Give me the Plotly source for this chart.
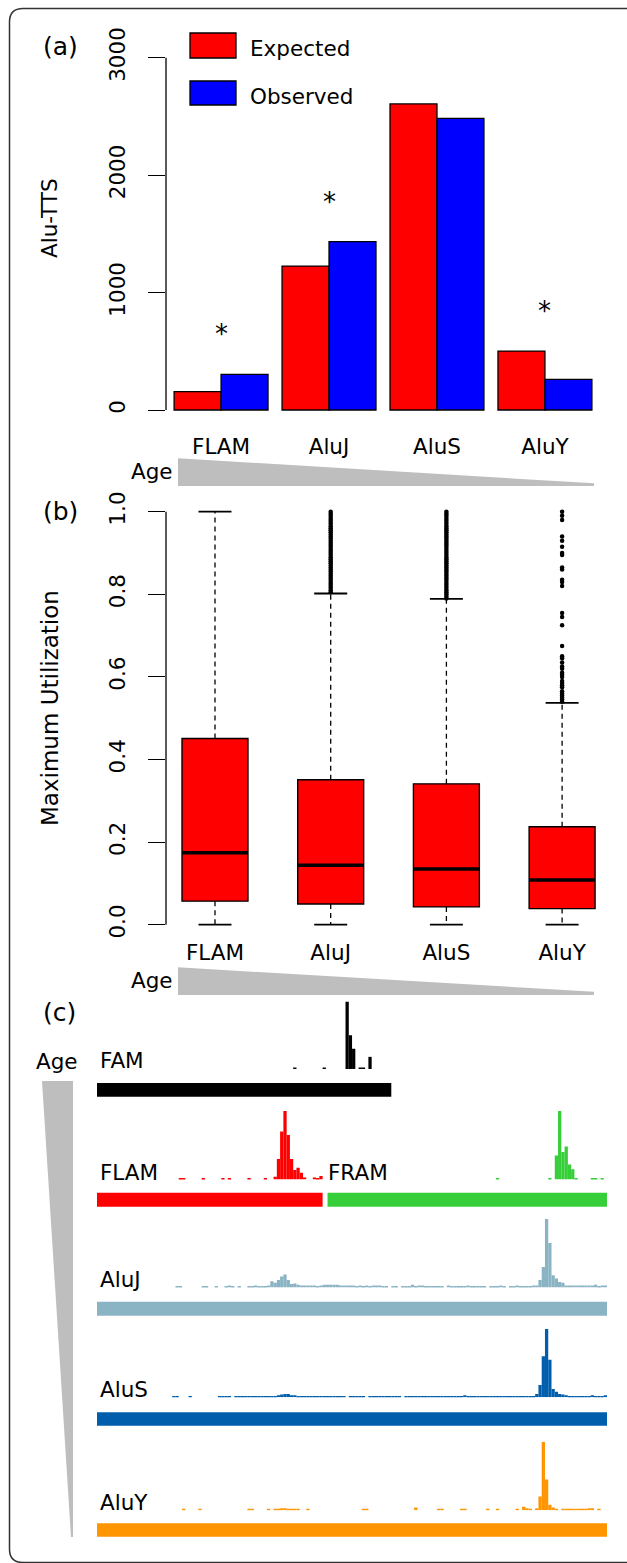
import plotly.graph_objects as go

W, H = 627, 1563
FONT = "DejaVu Sans"
FS = 21.5

# ---------------- panel (a) data ----------------
families = ["FLAM", "AluJ", "AluS", "AluY"]
expected = [156, 1226, 2606, 502]
observed = [304, 1434, 2484, 261]
significant = [True, True, False, True]
a_ytick_vals = [0, 1000, 2000, 3000]
a_ytick_text = ["0", "1000", "2000", "3000"]

# ---------------- panel (b) data ----------------
b_lower = [0.0, 0.0, 0.0, 0.0]
b_q1 = [0.057, 0.050, 0.043, 0.039]
b_median = [0.174, 0.144, 0.135, 0.108]
b_q3 = [0.451, 0.351, 0.341, 0.237]
b_upper = [1.0, 0.802, 0.789, 0.537]
out_flam = []
out_aluj = [0.805, 0.81, 0.815, 0.82, 0.825, 0.83, 0.835, 0.84, 0.845, 0.85,
            0.855, 0.86, 0.865, 0.87, 0.875, 0.88, 0.885, 0.89, 0.895, 0.90,
            0.905, 0.91, 0.915, 0.92, 0.925, 0.93, 0.935, 0.94, 0.945, 0.95,
            0.955, 0.96, 0.965, 0.97, 0.975, 0.98, 0.985, 0.99, 0.995, 1.0]
out_alus = [0.79, 0.795, 0.80, 0.805, 0.81, 0.815, 0.82, 0.825, 0.83, 0.835,
            0.84, 0.845, 0.85, 0.855, 0.86, 0.865, 0.87, 0.875, 0.88, 0.885,
            0.89, 0.895, 0.90, 0.905, 0.91, 0.915, 0.92, 0.925, 0.93, 0.935,
            0.94, 0.945, 0.95, 0.955, 0.96, 0.965, 0.97, 0.975, 0.98, 0.985,
            0.99, 0.995, 1.0]
out_aluy = [1.0, 0.99, 0.98, 0.94, 0.93, 0.915, 0.90, 0.895, 0.865, 0.86, 0.835,
            0.83, 0.82, 0.755, 0.745, 0.725, 0.675, 0.65, 0.645, 0.635, 0.625,
            0.62, 0.61, 0.605, 0.60, 0.59, 0.585, 0.58, 0.575, 0.565, 0.56,
            0.555, 0.55, 0.545, 0.54]
b_outliers = [out_flam, out_aluj, out_alus, out_aluy]
b_ytick_vals = [0, 0.2, 0.4, 0.6, 0.8, 1.0]
b_ytick_text = ["0.0", "0.2", "0.4", "0.6", "0.8", "1.0"]

# ---------------- panel (c) data ----------------
BIN_BP = 2          # histogram bin width (bp)
ALU_LEN = 312       # consensus length (bp)
track_names = ["FAM", "FLAM", "FRAM", "AluJ", "AluS", "AluY"]
track_colors = ["#000000", "#ff0000", "#36cf3a", "#8ab4c4", "#005eac", "#ff9500"]
element_start = [0, 0, 141, 0, 0, 0]
element_end = [180, 138, 312, 312, 312, 312]

fam_first_bin = 60
fam_signal = [2, 0, 0, 0, 0, 0, 0, 0, 0, 2,
              0, 0, 0, 0, 0, 0, 100, 50, 30, 0,
              2, 2, 0, 18]
flam_first_bin = 25
flam_signal = [2, 2, 0, 0, 0, 0, 0, 2, 0, 0,
               0, 0, 0, 2, 0, 2, 0, 0, 0, 0,
               0, 2, 0, 0, 0, 0, 2, 0, 0, 4,
               30, 70, 100, 65, 30, 14, 17, 10, 3, 0,
               0, 3, 2, 5]
fram_first_bin = 122
fram_signal = [2, 0, 0, 0, 0, 0, 0, 0, 0, 0,
               0, 0, 0, 0, 0, 0, 2, 0, 35, 100,
               40, 48, 22, 15, 2, 0, 0, 0, 0, 2,
               2, 0, 2]
aluj_first_bin = 24
aluj_signal = [1.5, 1.5, 0, 0, 0, 0, 0, 0, 1.5, 1.5,
               0, 0, 1.5, 0, 0, 2, 3, 2, 0, 1.5,
               0, 0, 1.5, 2, 3, 2, 1.5, 1.5, 3, 9,
               7, 11, 16, 19, 11, 5, 6, 4, 3, 3,
               3, 3, 3, 2, 3, 4, 4, 4, 4, 4,
               3, 3, 3, 3, 3, 2, 3, 2, 3, 2,
               3, 3, 3, 2, 2, 0, 1.5, 1.5, 0, 1.5,
               1.5, 2, 4, 2, 3, 3, 1.5, 1.5, 1.5, 1.5,
               1.5, 1.5, 0, 3, 1.5, 1.5, 1.5, 1.5, 1.5, 3,
               1.5, 1.5, 1.5, 1.5, 1.5, 0, 1.5, 1.5, 1.5, 3,
               2, 0, 1.5, 1.5, 3, 2, 2, 1.5, 2, 3,
               3, 11, 30, 100, 65, 18, 13, 8, 7, 3,
               3, 3, 3, 3, 3, 3, 3, 3, 4, 2,
               3, 3]
alus_first_bin = 23
alus_signal = [1.5, 1.5, 0, 0, 0, 1.5, 0, 0, 0, 0,
               0, 0, 0, 0, 1.5, 1.5, 1.5, 1.5, 0, 1.5,
               2, 2, 1.5, 2, 2, 1.5, 2, 2, 2, 2,
               2, 2, 3, 4, 5, 5, 3, 3, 2, 2,
               2, 2, 2, 1.5, 2, 2, 2, 1.5, 2, 2,
               2, 2, 2, 0, 2, 2, 2, 2, 2, 0,
               2, 2, 2, 2, 2, 2, 2, 2, 2, 2,
               0, 2, 2, 2, 2, 2, 2, 2, 2, 2,
               2, 2, 2, 2, 2, 2, 2, 2, 2, 3,
               2, 2, 2, 2, 2, 2, 2, 2, 2, 2,
               2, 2, 2, 2, 2, 2, 2, 2, 2, 2,
               2, 5, 18, 60, 100, 55, 12, 8, 5, 4,
               3, 2, 2, 2, 2, 2, 2, 2, 3, 2,
               2, 2, 3]
aluy_first_bin = 26
aluy_signal = [1.5, 0, 0, 0, 0, 1.5, 0, 0, 0, 0,
               0, 0, 0, 0, 0, 0, 0, 0, 0, 0,
               1.5, 1.5, 0, 0, 0, 0, 1.5, 0, 1.5, 1.5,
               3, 3, 1.5, 1.5, 1.5, 1.5, 0, 0, 1.5, 0,
               0, 0, 0, 0, 0, 0, 0, 0, 0, 0,
               0, 0, 0, 0, 0, 1.5, 1.5, 0, 0, 0,
               0, 0, 0, 0, 0, 0, 0, 0, 0, 0,
               0, 4, 0, 0, 0, 0, 0, 0, 1.5, 1.5,
               0, 0, 0, 0, 0, 1.5, 1.5, 0, 0, 0,
               0, 0, 0, 1.5, 0, 0, 1.5, 0, 0, 0,
               0, 0, 1.5, 0, 5, 3, 1.5, 0, 3, 20,
               100, 45, 8, 4, 1.5, 0, 1.5, 1.5, 1.5, 1.5,
               1.5, 1.5, 1.5, 1.5, 3, 3, 0, 1.5]
track_first_bin = [fam_first_bin, flam_first_bin, fram_first_bin,
                   aluj_first_bin, alus_first_bin, aluy_first_bin]
track_signal = [fam_signal, flam_signal, fram_signal,
                aluj_signal, alus_signal, aluy_signal]

# ---------------- layout geometry (pixels) ----------------
def px_x(p):
    return p / W


def px_y(p):
    return 1 - p / H


A_X0, A_X1 = 166, 600
A_YDOM = (424.1, 43.6)          # pixel bottom/top of panel (a) plot area
B_YDOM = (941.2, 495.2)
C_X0, C_X1 = 97, 607.1
track_base = [1069, 1179.5, 1179.5, 1287.5, 1397.3, 1510.2]
track_top = [1001.5, 1111, 1111, 1219, 1329, 1441.7]
element_y = [(1083, 1096.7), (1192.7, 1206.7), (1192.7, 1206.7),
             (1301.7, 1315.7), (1412.3, 1425.7), (1523.3, 1536.7)]
label_pos = [(98, 1060.5), (98, 1172.5), (326, 1172.5),
             (98, 1279.5), (98, 1389.5), (98, 1502.5)]

cat_idx = list(range(len(families)))
BAR_W = 0.435
BOX_W = 0.57

fig = go.Figure()

# ---------------- panel (a) ----------------
fig.add_trace(go.Bar(x=cat_idx, y=expected, name="Expected", width=BAR_W, offset=-BAR_W,
                     marker=dict(color="#ff0000", line=dict(color="black", width=1.3)),
                     xaxis="x", yaxis="y", showlegend=False))
fig.add_trace(go.Bar(x=cat_idx, y=observed, name="Observed", width=BAR_W, offset=0,
                     marker=dict(color="#0000ff", line=dict(color="black", width=1.3)),
                     xaxis="x", yaxis="y", showlegend=False))

# ---------------- panel (b) ----------------
fig.add_trace(go.Box(x=cat_idx, q1=b_q1, median=b_median, q3=b_q3,
                     lowerfence=b_q1, upperfence=b_q3, width=BOX_W, whiskerwidth=0,
                     fillcolor="#ff0000", line=dict(color="black", width=1.4),
                     boxpoints=False, xaxis="x2", yaxis="y2", showlegend=False,
                     hoverinfo="skip"))
wx, wy, cx, cy, mx, my = [], [], [], [], [], []
cap = BOX_W / 4
for i in cat_idx:
    wx += [i, i, None, i, i, None]
    wy += [b_q3[i], b_upper[i], None, b_q1[i], b_lower[i], None]
    cx += [i - cap, i + cap, None, i - cap, i + cap, None]
    cy += [b_upper[i], b_upper[i], None, b_lower[i], b_lower[i], None]
    mx += [i - BOX_W / 2, i + BOX_W / 2, None]
    my += [b_median[i], b_median[i], None]
fig.add_trace(go.Scatter(x=wx, y=wy, mode="lines", line=dict(color="black", width=1.3, dash="5px,4px"),
                         xaxis="x2", yaxis="y2", showlegend=False, cliponaxis=False))
fig.add_trace(go.Scatter(x=cx, y=cy, mode="lines", line=dict(color="black", width=1.8),
                         xaxis="x2", yaxis="y2", showlegend=False, cliponaxis=False))
fig.add_trace(go.Scatter(x=mx, y=my, mode="lines", line=dict(color="black", width=3.5),
                         xaxis="x2", yaxis="y2", showlegend=False, cliponaxis=False))
ox, oy = [], []
for i, vals in enumerate(b_outliers):
    ox += [i] * len(vals)
    oy += vals
fig.add_trace(go.Scatter(x=ox, y=oy, mode="markers", marker=dict(color="black", size=4.5),
                         xaxis="x2", yaxis="y2", showlegend=False, cliponaxis=False))

# ---------------- panel (c) ----------------
for k, name in enumerate(track_names):
    first = track_first_bin[k]
    vals = track_signal[k]
    xs = [(first + i) * BIN_BP + BIN_BP / 2 for i in range(len(vals))]
    fig.add_trace(go.Bar(x=xs, y=vals, width=BIN_BP, name=name,
                         marker=dict(color=track_colors[k], line=dict(width=0)),
                         xaxis="x3", yaxis="y%d" % (k + 3), showlegend=False))

# ---------------- axes ----------------
tickfont = dict(family=FONT, size=FS, color="black")
layout = dict(
    template="none",
    width=W, height=H, margin=dict(l=0, r=0, t=0, b=0, pad=0, autoexpand=False),
    paper_bgcolor="white", plot_bgcolor="rgba(0,0,0,0)",
    barmode="overlay", font=dict(family=FONT, size=FS, color="black"),
    xaxis=dict(domain=[px_x(A_X0), px_x(A_X1)], range=[-0.51, 3.51], anchor="y",
               tickvals=cat_idx, ticktext=families, ticks="", showgrid=False,
               zeroline=False, showline=False, tickfont=tickfont, ticklabelstandoff=7,
               automargin=False, fixedrange=True),
    yaxis=dict(domain=[px_y(A_YDOM[0]), px_y(A_YDOM[1])], range=[-120, 3120], anchor="x",
               tickvals=a_ytick_vals, ticktext=a_ytick_text, ticks="outside", ticklen=17,
               tickwidth=1.3, tickcolor="black", tickangle=-90, showgrid=False,
               zeroline=False, showline=False, tickfont=tickfont, ticklabelstandoff=14,
               automargin=False, fixedrange=True),
    xaxis2=dict(domain=[px_x(A_X0), px_x(A_X1)], range=[-0.4235, 3.3276], anchor="y2",
                tickvals=cat_idx, ticktext=families, ticks="", showgrid=False,
                zeroline=False, showline=False, tickfont=tickfont, ticklabelstandoff=-4,
                automargin=False, fixedrange=True),
    yaxis2=dict(domain=[px_y(B_YDOM[0]), px_y(B_YDOM[1])], range=[-0.04, 1.04], anchor="x2",
                tickvals=b_ytick_vals, ticktext=b_ytick_text, ticks="outside", ticklen=17,
                tickwidth=1.3, tickcolor="black", tickangle=-90, showgrid=False,
                zeroline=False, showline=False, tickfont=tickfont, ticklabelstandoff=14,
                automargin=False, fixedrange=True),
    xaxis3=dict(domain=[px_x(C_X0), px_x(C_X1)], range=[0, ALU_LEN], anchor="y8",
                visible=False, automargin=False, fixedrange=True),
)
for k in range(len(track_names)):
    layout["yaxis%d" % (k + 3)] = dict(domain=[px_y(track_base[k]), px_y(track_top[k])],
                                       range=[0, 100], anchor="x3", visible=False,
                                       automargin=False, fixedrange=True)
fig.update_layout(**layout)

shapes = []
annotations = []

# axis lines spanning the tick range only (R style)
shapes.append(dict(type="line", xref="x domain", yref="y", x0=0, x1=0,
                   y0=a_ytick_vals[0], y1=a_ytick_vals[-1], line=dict(color="black", width=1.3)))
shapes.append(dict(type="line", xref="x2 domain", yref="y2", x0=0, x1=0,
                   y0=b_ytick_vals[0], y1=b_ytick_vals[-1], line=dict(color="black", width=1.3)))

# legend of panel (a)
legend_items = [("Expected", "#ff0000", 33, 58, 49), ("Observed", "#0000ff", 81, 105, 97)]
for text, col, y0, y1, ty in legend_items:
    shapes.append(dict(type="rect", xref="paper", yref="paper", x0=px_x(190), x1=px_x(236),
                       y0=px_y(y1), y1=px_y(y0), fillcolor=col, line=dict(color="black", width=1.3)))
    annotations.append(dict(text=text, xref="paper", yref="paper", x=px_x(248), y=px_y(ty),
                            xanchor="left", yanchor="middle", showarrow=False,
                            font=dict(family=FONT, size=FS, color="black")))

# significance stars
for i, sig in enumerate(significant):
    if sig:
        annotations.append(dict(text="*", xref="x", yref="y", x=i,
                                y=max(expected[i], observed[i]) + 340,
                                showarrow=False, font=dict(family=FONT, size=26, color="black")))

# age wedges under (a) and (b)
for top_left, top_right, bottom, age_y in [(458.3, 483.3, 486, 471.5), (967.3, 991.7, 995, 980.5)]:
    path = "M %f %f L %f %f L %f %f L %f %f Z" % (
        px_x(178), px_y(top_left), px_x(594), px_y(top_right),
        px_x(594), px_y(bottom), px_x(178), px_y(bottom))
    shapes.append(dict(type="path", xref="paper", yref="paper", path=path,
                       fillcolor="#bebebe", line=dict(width=0)))
    annotations.append(dict(text="Age", xref="paper", yref="paper", x=px_x(152), y=px_y(age_y),
                            xanchor="center", yanchor="middle", showarrow=False,
                            font=dict(family=FONT, size=FS, color="black")))

# vertical age wedge in (c)
path = "M %f %f L %f %f L %f %f L %f %f Z" % (
    px_x(42), px_y(1081), px_x(73), px_y(1081), px_x(73), px_y(1537), px_x(71), px_y(1537))
shapes.append(dict(type="path", xref="paper", yref="paper", path=path,
                   fillcolor="#bebebe", line=dict(width=0)))
annotations.append(dict(text="Age", xref="paper", yref="paper", x=px_x(57), y=px_y(1061),
                        xanchor="center", yanchor="middle", showarrow=False,
                        font=dict(family=FONT, size=FS, color="black")))

# element bars and labels of (c)
for k, name in enumerate(track_names):
    y0, y1 = element_y[k]
    shapes.append(dict(type="rect", xref="x3", yref="paper", x0=element_start[k], x1=element_end[k],
                       y0=px_y(y1), y1=px_y(y0), fillcolor=track_colors[k], line=dict(width=0)))
    lx, ly = label_pos[k]
    annotations.append(dict(text=name, xref="paper", yref="paper", x=px_x(lx), y=px_y(ly),
                            xanchor="left", yanchor="middle", showarrow=False,
                            font=dict(family=FONT, size=FS, color="black")))

# y-axis titles
annotations.append(dict(text="Alu-TTS", xref="paper", yref="paper", x=px_x(50), y=px_y(218),
                        textangle=-90, xanchor="center", yanchor="middle", showarrow=False,
                        font=dict(family=FONT, size=FS, color="black")))
annotations.append(dict(text="Maximum Utilization", xref="paper", yref="paper", x=px_x(50),
                        y=px_y(708), textangle=-90, xanchor="center", yanchor="middle",
                        showarrow=False, font=dict(family=FONT, size=23, color="black")))

# panel letters
for letter, (lx, ly) in zip(["(a)", "(b)", "(c)"], [(60, 46), (60, 511.5), (59.5, 1012)]):
    annotations.append(dict(text=letter, xref="paper", yref="paper", x=px_x(lx), y=px_y(ly),
                            xanchor="center", yanchor="middle", showarrow=False,
                            font=dict(family=FONT, size=25, color="black")))

# outer rounded frame
frame = "M %f %f L %f %f Q %f %f %f %f L %f %f Q %f %f %f %f L %f %f" % (
    px_x(640), px_y(8.5), px_x(23), px_y(8.5), px_x(9.5), px_y(8.5), px_x(9.5), px_y(22),
    px_x(9.5), px_y(1549), px_x(9.5), px_y(1562.5), px_x(23), px_y(1562.5), px_x(640), px_y(1562.5))
shapes.append(dict(type="path", xref="paper", yref="paper", path=frame,
                   line=dict(color="#333333", width=1.5)))

fig.update_layout(shapes=shapes, annotations=annotations)
fig.write_html("out.html", config={"displayModeBar": False},
               post_script="document.body.style.margin='0';document.body.style.overflow='hidden';")
